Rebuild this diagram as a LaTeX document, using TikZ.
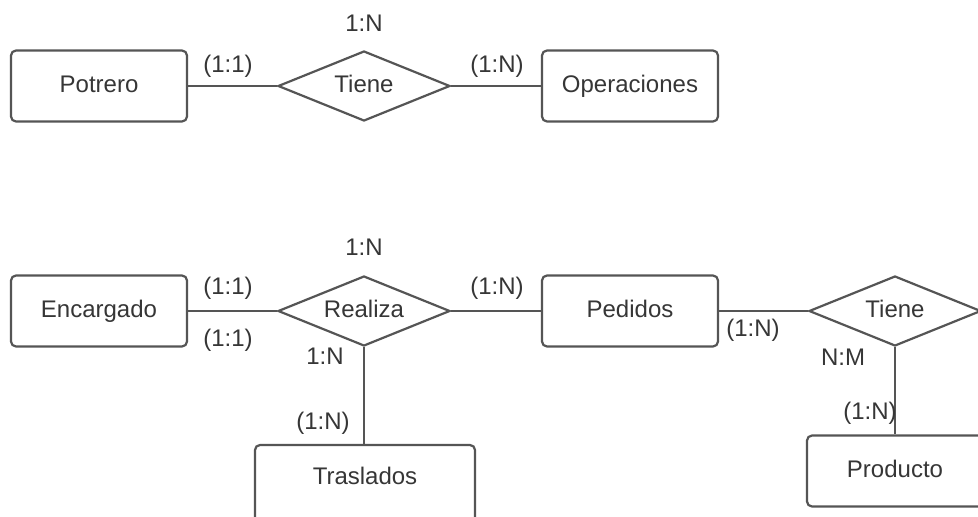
\documentclass[tikz,border=0pt]{standalone}
\usepackage{fontspec}
\setmainfont{Liberation Sans}
\usetikzlibrary{shapes.geometric}
\definecolor{edgegray}{HTML}{555555}
\definecolor{inkgray}{HTML}{363636}
\tikzset{
  labelfont/.style={font=\fontsize{24pt}{28pt}\selectfont, text=inkgray},
  entity/.style={draw=edgegray, line width=2.2pt, rounded corners=5pt,
    minimum width=176pt, minimum height=71pt, inner sep=0pt, labelfont,
    text height=17pt, text depth=5pt},
  relation/.style={diamond, draw=edgegray, line width=2.2pt, aspect=2.45,
    minimum width=172pt, minimum height=70pt, inner sep=0pt, labelfont,
    text height=17pt, text depth=5pt},
  card/.style={labelfont, inner sep=0pt},
  link/.style={draw=edgegray, line width=2.2pt}
}
\begin{document}
\begin{tikzpicture}[x=1pt, y=-1pt]
  \useasboundingbox[fill=white] (0,0) rectangle (978,517);

  % Potrero -- Tiene -- Operaciones
  \node[entity] (potrero) at (99,86) {Potrero};
  \node[relation] (tiene1) at (364,86) {Tiene};
  \node[entity] (operaciones) at (630,86) {Operaciones};
  \draw[link] (potrero) -- (tiene1);
  \draw[link] (tiene1) -- (operaciones);
  \node[card] (c1) at (364,23) {1:N};
  \node[card] (c2) at (228,66) {(1:1)};
  \node[card] (c3) at (497,66) {(1:N)};

  % Encargado -- Realiza -- Pedidos, Realiza -- Traslados
  \node[entity] (encargado) at (99,311) {Encargado};
  \node[relation] (realiza) at (364,311) {Realiza};
  \node[entity] (pedidos) at (630,311) {Pedidos};
  \node[entity, minimum width=220pt, minimum height=80pt] (traslados) at (365,485) {};
  \node[entity, draw=none] (trastext) at (365,478) {Traslados};
  \draw[link] (encargado) -- (realiza);
  \draw[link] (realiza) -- (pedidos);
  \draw[link] (realiza.south) -- (realiza.south |- traslados.north);
  \node[card] (c4) at (364,247) {1:N};
  \node[card] (c5) at (228,288) {(1:1)};
  \node[card] (c6) at (228,340) {(1:1)};
  \node[card] (c7) at (497,288) {(1:N)};
  \node[card] (c8) at (325,356) {1:N};
  \node[card] (c9) at (323,423) {(1:N)};

  % Pedidos -- Tiene -- Producto
  \node[relation] (tiene2) at (895,311) {Tiene};
  \node[entity] (producto) at (895,471) {Producto};
  \draw[link] (pedidos) -- (tiene2);
  \draw[link] (tiene2.south) -- (producto.north);
  \node[card] (c10) at (753,330) {(1:N)};
  \node[card] (c11) at (843,357) {N:M};
  \node[card] (c12) at (870,413) {(1:N)};
\end{tikzpicture}
\end{document}
